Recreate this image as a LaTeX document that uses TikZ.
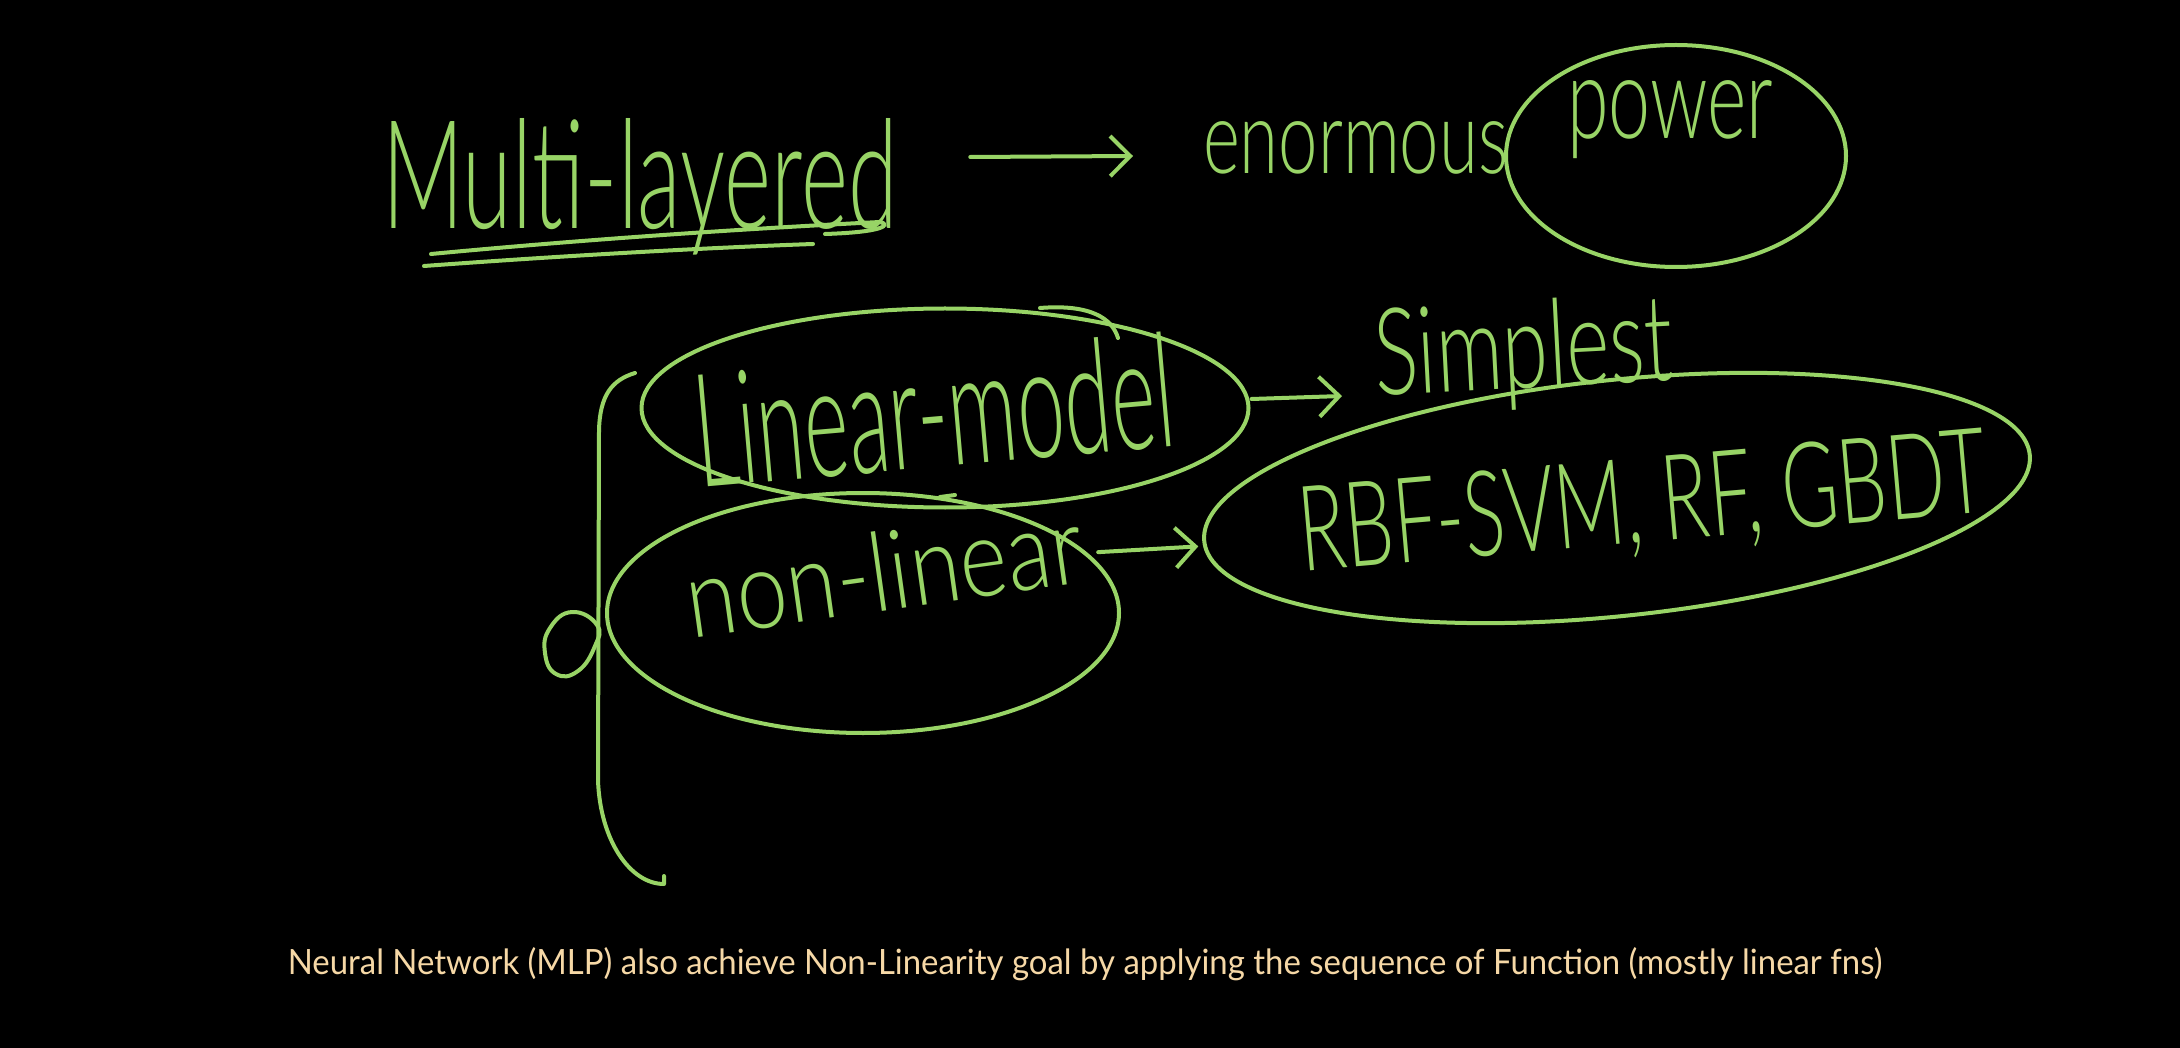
\documentclass[tikz,border=0pt]{standalone}
\usepackage{fontspec}
\setmainfont{Lato}
\newfontfamily\hand{Lato Light}
\usetikzlibrary{arrows.meta,shapes.geometric,calc}
\definecolor{chalk}{RGB}{152,212,102}
\definecolor{capcol}{RGB}{246,216,166}
\newcommand{\hw}[3]{\resizebox{#1}{#2}{\hand #3}}
\begin{document}
\begin{tikzpicture}[x=1pt,y=1pt,
  pen/.style={draw=chalk, line width=4pt, line cap=round, line join=round},
  arr/.style={pen, -{Straight Barb[length=20pt,width=40pt]}},
  word/.style={text=chalk, inner sep=0pt, outer sep=0pt},
  ring/.style={pen, ellipse, inner sep=0pt, outer sep=0pt}]
\fill[black] (0,0) rectangle (2180,-1048);
\useasboundingbox (0,0) rectangle (2180,-1048);

% top line
\node[word, anchor=base west] (ml) at (382,-229) {\hw{515pt}{110pt}{Multi-layered}};
\node[word, anchor=base west] (en) at (1203,-174) {\hw{305pt}{52pt}{enormous}};
\node[word, anchor=base west] (pw) at (1567,-139) {\hw{206pt}{58pt}{power}};
\node[ring, minimum width=340pt, minimum height=222pt] (powE) at (1676,-156) {};
\draw[arr] ($(ml.base east)+(73,72)$) -- ($(en.base west)+(-70,18)$);

% underlines
\draw[pen] (431,-254) .. controls (600,-238) and (760,-228) .. (880,-222)
           .. controls (890,-224) and (888,-232) .. (825,-234);
\draw[pen] (424,-266) .. controls (560,-256) and (700,-248) .. (813,-244);

% ellipses
\node[ring, minimum width=607pt, minimum height=199pt] (linE) at (945,-408) {};
\draw[pen] (1040,-308) .. controls (1090,-304) and (1112,-318) .. (1118,-338);
\node[ring, minimum width=512pt, minimum height=240pt] (nonE) at (863,-613) {};
\node[ring, rotate=6, minimum width=830pt, minimum height=236pt] (rbfE) at (1617,-498) {};

% texts
\node[word, rotate=5] (lin) at (934,-410) {\hw{480pt}{115pt}{Linear-model}};
\node[word, rotate=3, anchor=base west] (simp) at (1376,-396) {\hw{299pt}{88pt}{Simplest}};
\node[word, rotate=8] (non) at (884,-571) {\hw{400pt}{80pt}{non-linear}};
\node[word, rotate=5] (rbf) at (1643,-507) {\hw{690pt}{85pt}{RBF-SVM, RF, GBDT}};
\draw[pen] (940,-497) -- (955,-495);

% arrows
\draw[arr] ($(linE.east)+(3,9)$) -- ($(simp.base west)+(-34,0)$);
\draw[arr] ($(non.east)+(16,-9)$) -- ($(rbfE.west)+(-6,-5)$);

% bracket
\draw[pen] (635,-373) .. controls (612,-380) and (600,-395) .. (599,-430)
           -- (598,-780) .. controls (600,-840) and (630,-884) .. (664,-884)
           -- (664,-876);
\draw[pen] plot[smooth cycle, tension=0.8] coordinates
  {(597,-625) (572,-612) (550,-628) (545,-653) (556,-674) (578,-671) (595,-646)};

% caption
\node[text=capcol, inner sep=0pt, anchor=base] (cap) at (1085,-974)
  {\resizebox{1594pt}{27pt}{Neural Network (MLP) also achieve Non-Linearity goal by applying the sequence of Function (mostly linear fns)}};
\end{tikzpicture}
\end{document}
